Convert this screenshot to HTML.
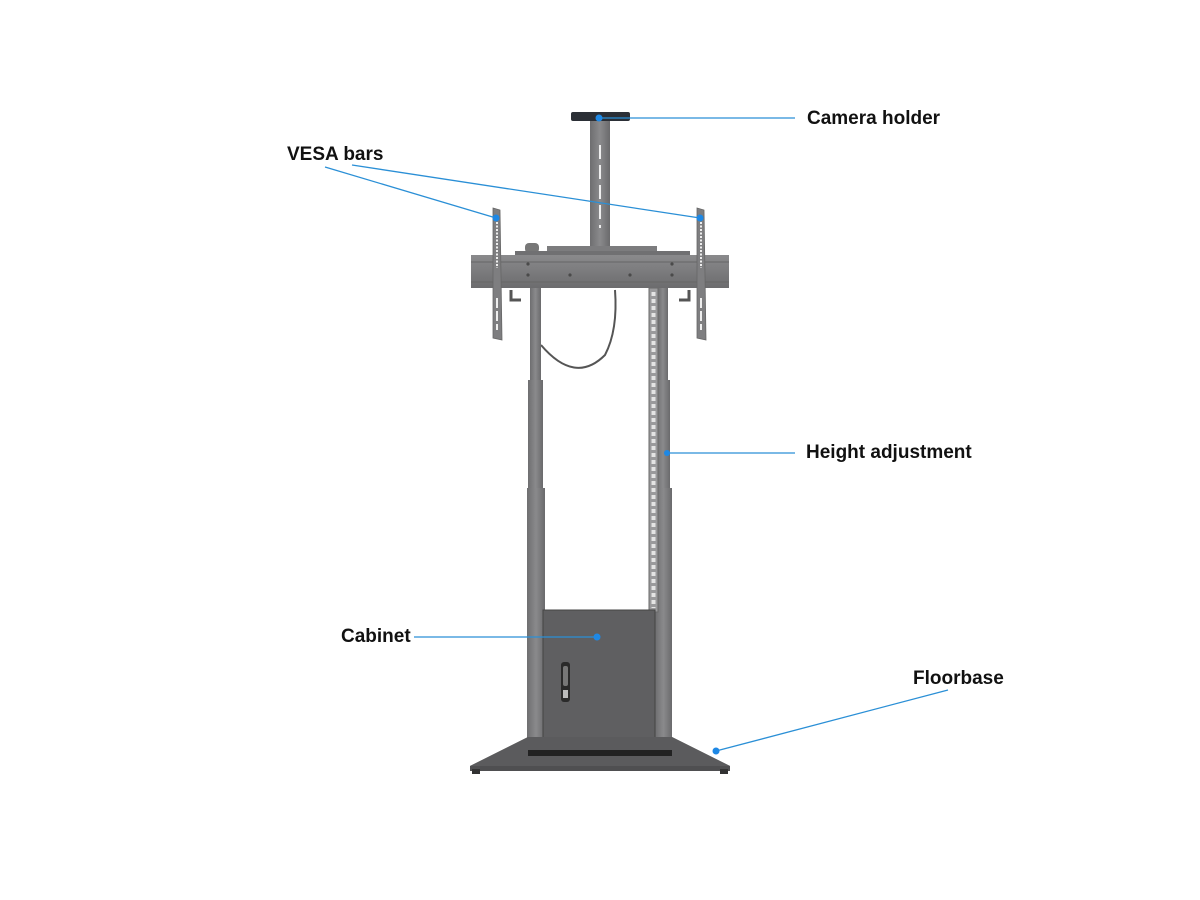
<!DOCTYPE html>
<html><head><meta charset="utf-8"><style>
html,body{margin:0;padding:0;background:#fff}
svg{display:block}
text{font-family:"Liberation Sans",sans-serif;font-weight:bold;font-size:19px;fill:#111}
</style></head><body>
<svg width="1200" height="900" viewBox="0 0 1200 900" xmlns="http://www.w3.org/2000/svg">
<defs>
<linearGradient id="col" x1="0" x2="1"><stop offset="0" stop-color="#6e6e70"/><stop offset="0.5" stop-color="#8a8a8c"/><stop offset="1" stop-color="#6a6a6c"/></linearGradient>
<linearGradient id="bar" x1="0" y1="0" x2="0" y2="1"><stop offset="0" stop-color="#8a8a8c"/><stop offset="1" stop-color="#6c6c6e"/></linearGradient>
</defs>
<!-- cable -->
<path d="M541 345 Q575 385 605 355 Q618 330 615 290" fill="none" stroke="#555" stroke-width="2"/>
<!-- columns left -->
<rect x="530" y="288" width="11" height="95" fill="url(#col)"/>
<rect x="528" y="380" width="15" height="110" fill="url(#col)"/>
<rect x="527" y="488" width="18" height="262" fill="url(#col)"/>
<!-- columns right -->
<rect x="658" y="288" width="10" height="95" fill="url(#col)"/>
<rect x="656" y="380" width="14" height="110" fill="url(#col)"/>
<rect x="655" y="488" width="17" height="262" fill="url(#col)"/>
<!-- chain -->
<rect x="649" y="288" width="9" height="324" fill="#9a9a9c" stroke="#6a6a6a" stroke-width="1"/>
<line x1="653.5" y1="292" x2="653.5" y2="608" stroke="#e4e4e4" stroke-width="4" stroke-dasharray="4,3"/>
<!-- camera pole -->
<rect x="590" y="121" width="20" height="128" fill="url(#col)"/>
<line x1="600" y1="145" x2="600" y2="228" stroke="#eee" stroke-width="2" stroke-dasharray="14,6"/>
<rect x="571" y="112" width="59" height="9" rx="2" fill="#2b2f36"/>
<!-- top plate -->
<rect x="547" y="246" width="110" height="10" fill="#7c7c7e"/>
<rect x="525" y="243" width="14" height="10" rx="4" fill="#777"/>
<rect x="515" y="251" width="175" height="6" fill="#707072"/>
<!-- main bar -->
<rect x="471" y="255" width="258" height="33" fill="url(#bar)"/>
<line x1="471" y1="262" x2="729" y2="262" stroke="#666" stroke-width="1"/>
<line x1="471" y1="282" x2="729" y2="282" stroke="#666" stroke-width="1"/>
<g fill="#4a4a4a"><circle cx="528" cy="264" r="1.6"/><circle cx="672" cy="264" r="1.6"/><circle cx="528" cy="275" r="1.6"/><circle cx="570" cy="275" r="1.6"/><circle cx="630" cy="275" r="1.6"/><circle cx="672" cy="275" r="1.6"/></g>
<!-- hooks -->
<path d="M511 290 v10 h10" fill="none" stroke="#555" stroke-width="3"/>
<path d="M689 290 v10 h-10" fill="none" stroke="#555" stroke-width="3"/>
<!-- VESA bars -->
<polygon points="493,208 500,210 502,340 493,338" fill="#7e7e80" stroke="#666" stroke-width="0.8"/>
<polygon points="697,208 704,210 706,340 697,338" fill="#7e7e80" stroke="#666" stroke-width="0.8"/>
<line x1="497" y1="222" x2="497" y2="268" stroke="#eee" stroke-width="2" stroke-dasharray="2,1.5"/>
<line x1="701" y1="222" x2="701" y2="268" stroke="#eee" stroke-width="2" stroke-dasharray="2,1.5"/>
<line x1="497" y1="298" x2="497" y2="330" stroke="#eee" stroke-width="2" stroke-dasharray="10,3"/>
<line x1="701" y1="298" x2="701" y2="330" stroke="#eee" stroke-width="2" stroke-dasharray="10,3"/>
<!-- cabinet -->
<rect x="543" y="610" width="112" height="141" fill="#5f5f61" stroke="#444" stroke-width="1"/>
<rect x="561" y="662" width="9" height="40" rx="3" fill="#2a2a2a"/>
<rect x="563" y="666" width="5" height="20" rx="2" fill="#777"/>
<rect x="563" y="690" width="5" height="8" fill="#bbb"/>
<!-- base -->
<polygon points="470,766 528,737 672,737 730,766 730,771 470,771" fill="#4f4f51"/>
<polygon points="470,766 528,737 672,737 730,766" fill="#5b5b5d"/>
<rect x="528" y="750" width="144" height="6" fill="#222"/>
<rect x="472" y="769" width="8" height="5" fill="#333"/>
<rect x="720" y="769" width="8" height="5" fill="#333"/>
<!-- callout lines -->
<g stroke="#2a8fd6" stroke-width="1.3" fill="none">
<line x1="599" y1="118" x2="795" y2="118"/>
<line x1="325" y1="167" x2="496" y2="218"/>
<line x1="352" y1="165" x2="700" y2="218"/>
<line x1="667" y1="453" x2="795" y2="453"/>
<line x1="414" y1="637" x2="597" y2="637"/>
<line x1="716" y1="751" x2="948" y2="690"/>
</g>
<g fill="#1e88e5">
<circle cx="599" cy="118" r="3.5"/><circle cx="496" cy="218" r="3.5"/><circle cx="700" cy="218" r="3.5"/>
<circle cx="667" cy="453" r="3"/><circle cx="597" cy="637" r="3.5"/><circle cx="716" cy="751" r="3.5"/>
</g>
<text x="807" y="124">Camera holder</text>
<text x="287" y="160">VESA bars</text>
<text x="806" y="458">Height adjustment</text>
<text x="341" y="642">Cabinet</text>
<text x="913" y="684">Floorbase</text>
</svg>
</body></html>
